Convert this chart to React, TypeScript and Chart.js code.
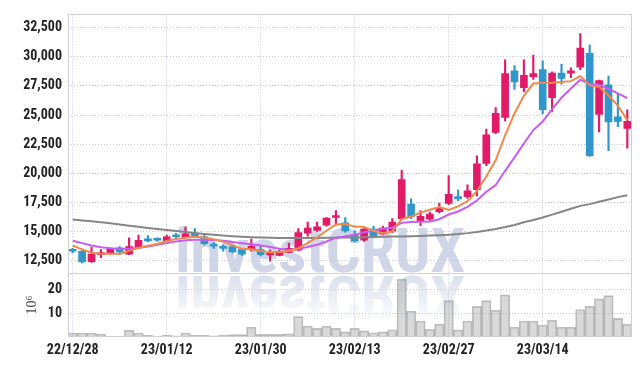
import React, { useEffect, useRef } from 'react';
import { Chart, registerables } from 'chart.js';

Chart.register(...registerables);

const dates = [
  '22/12/28', '22/12/29', '23/01/02', '23/01/03', '23/01/04', '23/01/05', '23/01/06', '23/01/09', '23/01/10', '23/01/11',
  '23/01/12', '23/01/13', '23/01/16', '23/01/17', '23/01/18', '23/01/19', '23/01/20', '23/01/25', '23/01/26', '23/01/27',
  '23/01/30', '23/01/31', '23/02/01', '23/02/02', '23/02/03', '23/02/06', '23/02/07', '23/02/08', '23/02/09', '23/02/10',
  '23/02/13', '23/02/14', '23/02/15', '23/02/16', '23/02/17', '23/02/20', '23/02/21', '23/02/22', '23/02/23', '23/02/24',
  '23/02/27', '23/02/28', '23/03/02', '23/03/03', '23/03/06', '23/03/07', '23/03/08', '23/03/09', '23/03/10', '23/03/13',
  '23/03/14', '23/03/15', '23/03/16', '23/03/17', '23/03/20', '23/03/21', '23/03/22', '23/03/23', '23/03/24', '23/03/27',
];

const opens = [
  13400, 13300, 12400, 13000, 13100, 13600, 13050, 13650, 14350, 14300,
  14200, 14600, 14500, 14850, 14550, 13800, 13600, 13700, 13450, 13450,
  13450, 12980, 12950, 13200, 13400, 14850, 15100, 15550, 16200, 15750,
  14700, 14250, 15050, 14800, 15050, 16100, 17350, 15850, 16050, 16700,
  17400, 18000, 18000, 18600, 20850, 23500, 24800, 28800, 27350, 28300,
  28900, 26500, 28600, 28600, 29100, 30300, 25050, 27600, 24850, 23850,
];
const highs = [
  13550, 13500, 13650, 13450, 13600, 13700, 14450, 14700, 14650, 14450,
  14700, 14850, 15400, 15250, 14700, 14050, 13850, 13850, 13500, 14350,
  13700, 13400, 13450, 14000, 15250, 15800, 15800, 16200, 16800, 16200,
  15050, 15250, 15450, 15450, 16100, 20250, 17800, 16800, 16650, 17450,
  19800, 18550, 19000, 21500, 23800, 25650, 29750, 29250, 29750, 30150,
  29650, 28700, 29350, 29050, 32000, 31000, 28000, 28350, 26800, 25450,
];
const lows = [
  13150, 12300, 12350, 12750, 13050, 13150, 13000, 13550, 14100, 14150,
  14150, 14350, 14450, 14500, 13850, 13550, 13300, 13150, 12950, 13300,
  12900, 12450, 12900, 13150, 13350, 14600, 15000, 15450, 15550, 14950,
  14100, 14150, 14450, 14750, 14900, 16000, 16100, 15500, 15950, 16600,
  17300, 17650, 17850, 18050, 20650, 23400, 24500, 27200, 27000, 28050,
  25100, 25300, 27650, 28200, 28900, 21450, 23550, 21950, 24000, 22150,
];
const closes = [
  13300, 12380, 13050, 13200, 13480, 13250, 13700, 14250, 14200, 14250,
  14550, 14550, 14800, 14600, 13950, 13750, 13550, 13250, 13050, 13750,
  13000, 13050, 13300, 13550, 14900, 15300, 15400, 16150, 16300, 15050,
  14200, 15200, 14550, 15300, 15800, 19450, 16250, 16300, 16500, 17000,
  18200, 17800, 18500, 20800, 23300, 25150, 28550, 27850, 28400, 28550,
  25450, 28600, 28150, 28800, 30750, 21500, 27950, 24400, 24450, 24450,
];

// volume in millions of shares
const volumes = [
  1.7, 1.7, 1.7, 1.2, 0.3, 0.3, 2.9, 1.7, 0.8, 0.4,
  0.8, 0.5, 1.7, 0.8, 0.8, 0.5, 0.8, 1.0, 1.0, 4.2,
  1.1, 1.1, 1.1, 1.3, 8.7, 4.6, 3.7, 4.6, 3.7, 2.2,
  3.7, 2.6, 1.8, 2.2, 3.1, 24.6, 11.0, 6.8, 3.3, 5.5,
  15.5, 3.0, 6.8, 13.0, 15.5, 11.4, 17.9, 4.2, 6.8, 6.8,
  5.1, 7.2, 4.2, 4.2, 11.7, 13.0, 16.2, 17.6, 7.9, 5.5,
];

const ma5 = [
  13800, 13450, 13180, 13080, 13082, 13072, 13336, 13576, 13776, 13930,
  14190, 14360, 14470, 14550, 14490, 14330, 14130, 13820, 13510, 13470,
  13320, 13220, 13230, 13330, 13560, 14020, 14490, 15060, 15610, 15640,
  15420, 15380, 15060, 14860, 15010, 16060, 16270, 16620, 16860, 17100,
  16850, 17160, 17600, 18460, 19720, 21110, 23260, 25130, 26650, 27700,
  27760, 27770, 27830, 27910, 28350, 27560, 27430, 26680, 25810, 24550,
];
const ma10 = [
  14200, 14000, 13800, 13650, 13560, 13500, 13520, 13600, 13720, 13850,
  14000, 14150, 14250, 14300, 14300, 14270, 14200, 14100, 14000, 13900,
  13800, 13675, 13525, 13420, 13515, 13670, 13855, 14145, 14470, 14600,
  14720, 14935, 15060, 15235, 15325, 15740, 15825, 15840, 15860, 16055,
  16455, 16715, 17110, 17660, 18410, 18980, 20210, 21365, 22555, 23710,
  24435, 25515, 26480, 27280, 28025, 27660, 27600, 27255, 26860, 26450,
];
const ma60 = [
  16030, 15950, 15870, 15790, 15700, 15600, 15500, 15400, 15300, 15220,
  15130, 15040, 14950, 14870, 14790, 14720, 14650, 14600, 14550, 14510,
  14480, 14460, 14450, 14440, 14440, 14440, 14450, 14460, 14470, 14480,
  14490, 14500, 14520, 14540, 14560, 14580, 14600, 14620, 14650, 14680,
  14720, 14780, 14860, 14960, 15080, 15220, 15380, 15560, 15800, 15980,
  16200, 16450, 16700, 16950, 17200, 17350, 17550, 17750, 17950, 18120,
];

const priceTicks = [12500, 15000, 17500, 20000, 22500, 25000, 27500, 30000, 32500];
const volumeTicks = [10, 20];
const volumeTitle = '10\u2076';
const watermarkText = 'investCRUX';

const UP = '#e21b68';
const DOWN = '#2f97c9';
const GRID = '#c3c8d8';
const FRAME = '#cfd0d6';
const TEXT = '#222222';
const FONT = '"Liberation Sans Narrow", "Roboto Condensed", "DejaVu Sans Condensed", Arial, sans-serif';

export default function App() {
  const ref = useRef<HTMLCanvasElement>(null);

  useEffect(() => {
    document.body.style.margin = '0';
    const canvas = ref.current;
    if (!canvas) return;

    const candleColors = closes.map((c, i) => (c >= opens[i] ? UP : DOWN));
    const bodies = closes.map((c, i) => [Math.min(c, opens[i]), Math.max(c, opens[i])]);
    const wicks = lows.map((l, i) => [l, highs[i]]);

    const decor = {
      id: 'decor',
      beforeDatasetsDraw(chart: any) {
        const { ctx, chartArea } = chart;
        const yv = chart.scales.yv;
        const base = Math.round(yv.top) - 1;
        const x = chartArea.left + 107;
        ctx.save();
        ctx.beginPath();
        ctx.rect(chartArea.left, chartArea.top, chartArea.right - chartArea.left, chartArea.bottom - chartArea.top);
        ctx.clip();
        ctx.font = `bold 62px ${FONT}`;
        ctx.textBaseline = 'alphabetic';
        ctx.textAlign = 'left';
        ctx.fillStyle = 'rgb(208,214,231)';
        ctx.fillText(watermarkText, x, base);
        const m = base + 2;
        ctx.translate(0, 2 * m);
        ctx.scale(1, -1);
        const g = ctx.createLinearGradient(0, base, 0, base - 46);
        g.addColorStop(0, 'rgba(208,214,231,0.75)');
        g.addColorStop(1, 'rgba(208,214,231,0)');
        ctx.fillStyle = g;
        ctx.fillText(watermarkText, x, base);
        ctx.restore();
      },
      afterDraw(chart: any) {
        const { ctx, chartArea } = chart;
        const yv = chart.scales.yv;
        ctx.save();
        ctx.strokeStyle = FRAME;
        ctx.lineWidth = 1;
        ctx.strokeRect(
          Math.round(chartArea.left) + 0.5,
          Math.round(chartArea.top) + 0.5,
          Math.round(chartArea.right - chartArea.left) - 1,
          Math.round(chartArea.bottom - chartArea.top) - 1,
        );
        ctx.beginPath();
        ctx.moveTo(chartArea.left, Math.round(yv.top) + 0.5);
        ctx.lineTo(chartArea.right, Math.round(yv.top) + 0.5);
        ctx.stroke();
        ctx.restore();
      },
    };

    const tickFont = { family: FONT, size: 14, weight: 'bold' as const };

    const chart = new Chart(canvas, {
      type: 'bar',
      data: {
        labels: dates,
        datasets: [
          { type: 'line', label: 'MA5', data: ma5, yAxisID: 'y', borderColor: '#f08a4b', borderWidth: 2, pointRadius: 0, order: 0 } as any,
          { type: 'line', label: 'MA10', data: ma10, yAxisID: 'y', borderColor: '#c95cf0', borderWidth: 2, pointRadius: 0, order: 0 } as any,
          { type: 'line', label: 'MA60', data: ma60, yAxisID: 'y', borderColor: '#868686', borderWidth: 2, pointRadius: 0, order: 0 } as any,
          { type: 'bar', label: 'body', data: bodies, yAxisID: 'y', backgroundColor: candleColors, barThickness: 7, minBarLength: 2, grouped: false, order: 1 } as any,
          { type: 'bar', label: 'wick', data: wicks, yAxisID: 'y', backgroundColor: candleColors, barThickness: 1.5, grouped: false, order: 2 } as any,
          {
            type: 'bar', label: 'volume', data: volumes, yAxisID: 'yv',
            backgroundColor: 'rgba(150,150,150,0.36)', borderColor: 'rgba(120,120,120,0.45)', borderWidth: 1,
            barPercentage: 1, categoryPercentage: 1, grouped: false, order: 3,
          } as any,
        ],
      },
      options: {
        animation: false,
        responsive: true,
        maintainAspectRatio: false,
        devicePixelRatio: 1,
        layout: { padding: { top: 9, right: 10, left: 0, bottom: 0 } },
        plugins: { legend: { display: false }, tooltip: { enabled: false } },
        scales: {
          x: {
            type: 'category',
            offset: true,
            grid: { offset: false, color: GRID, drawTicks: false },
            border: { display: false, dash: [1, 2] },
            afterBuildTicks: (s: any) => { s.ticks = s.ticks.filter((t: any) => t.value % 10 === 0); },
            ticks: { autoSkip: false, maxRotation: 0, padding: 5, color: TEXT, font: tickFont },
            afterFit: (s: any) => { s.height = 29; },
          },
          yv: {
            type: 'linear',
            position: 'left',
            stack: 'panes',
            stackWeight: 65,
            min: 0,
            max: 27.2,
            afterBuildTicks: (s: any) => { s.ticks = volumeTicks.map((v) => ({ value: v })); },
            grid: { color: GRID, drawTicks: false },
            border: { display: false, dash: [1, 2] },
            ticks: { autoSkip: false, padding: 6, color: TEXT, font: tickFont },
            title: {
              display: true,
              text: volumeTitle,
              color: '#444444',
              font: { family: '"Liberation Serif", "DejaVu Serif", serif', size: 14 },
              padding: { top: 24, bottom: 0 },
            },
            afterFit: (s: any) => { s.width = 68; },
          },
          y: {
            type: 'linear',
            position: 'left',
            stack: 'panes',
            stackWeight: 263,
            min: 11430,
            max: 33640,
            afterBuildTicks: (s: any) => { s.ticks = priceTicks.map((v) => ({ value: v })); },
            grid: { color: GRID, drawTicks: false },
            border: { display: false, dash: [1, 2] },
            ticks: { autoSkip: false, padding: 6, color: TEXT, font: tickFont, callback: (v: any) => Number(v).toLocaleString('en-US') },
            afterFit: (s: any) => { s.width = 68; },
          },
        } as any,
      },
      plugins: [decor],
    });

    return () => chart.destroy();
  }, []);

  return (
    <div style={{ width: 642, height: 366, position: 'relative' }}>
      <canvas ref={ref} />
    </div>
  );
}
